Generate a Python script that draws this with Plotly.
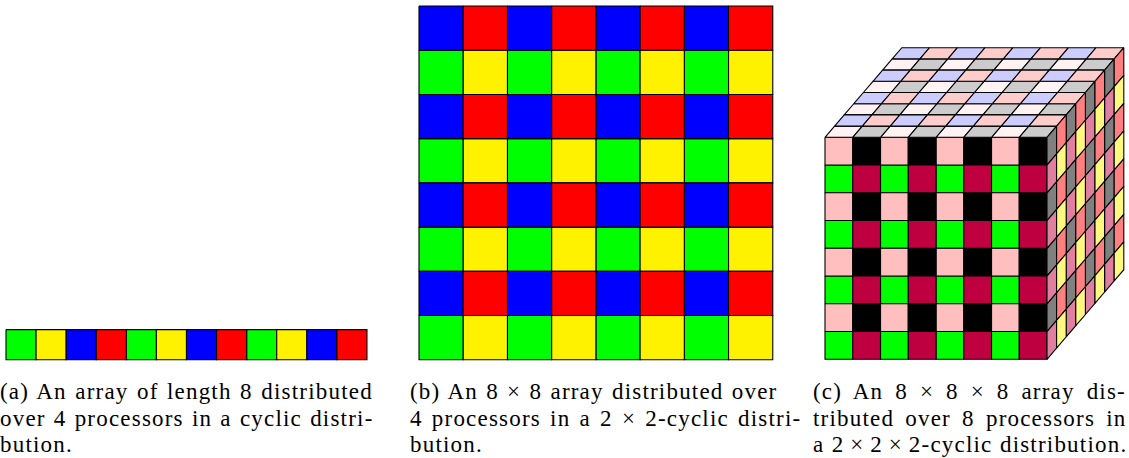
import plotly.graph_objects as go

# ---------------- data ----------------
# (a) 1-D cyclic distribution over 4 processors
array_1d = ["green", "yellow", "blue", "red", "green", "yellow", "blue", "red",
            "green", "yellow", "blue", "red"]

# (b) 8x8 array, 2x2-cyclic (rows top -> bottom)
array_2d = [
    ["blue", "red", "blue", "red", "blue", "red", "blue", "red"],
    ["green", "yellow", "green", "yellow", "green", "yellow", "green", "yellow"],
    ["blue", "red", "blue", "red", "blue", "red", "blue", "red"],
    ["green", "yellow", "green", "yellow", "green", "yellow", "green", "yellow"],
    ["blue", "red", "blue", "red", "blue", "red", "blue", "red"],
    ["green", "yellow", "green", "yellow", "green", "yellow", "green", "yellow"],
    ["blue", "red", "blue", "red", "blue", "red", "blue", "red"],
    ["green", "yellow", "green", "yellow", "green", "yellow", "green", "yellow"],
]

# (c) 8x8x8 array, 2x2x2-cyclic: visible faces
# front face: rows top -> bottom, columns left -> right
cube_front = [
    ["pink", "black", "pink", "black", "pink", "black", "pink", "black"],
    ["green", "purple", "green", "purple", "green", "purple", "green", "purple"],
    ["pink", "black", "pink", "black", "pink", "black", "pink", "black"],
    ["green", "purple", "green", "purple", "green", "purple", "green", "purple"],
    ["pink", "black", "pink", "black", "pink", "black", "pink", "black"],
    ["green", "purple", "green", "purple", "green", "purple", "green", "purple"],
    ["pink", "black", "pink", "black", "pink", "black", "pink", "black"],
    ["green", "purple", "green", "purple", "green", "purple", "green", "purple"],
]
# top face: depth front -> back, columns left -> right
cube_top = [
    ["pink", "black", "pink", "black", "pink", "black", "pink", "black"],
    ["blue", "red", "blue", "red", "blue", "red", "blue", "red"],
    ["pink", "black", "pink", "black", "pink", "black", "pink", "black"],
    ["blue", "red", "blue", "red", "blue", "red", "blue", "red"],
    ["pink", "black", "pink", "black", "pink", "black", "pink", "black"],
    ["blue", "red", "blue", "red", "blue", "red", "blue", "red"],
    ["pink", "black", "pink", "black", "pink", "black", "pink", "black"],
    ["blue", "red", "blue", "red", "blue", "red", "blue", "red"],
]
# right face: rows top -> bottom, depth front -> back
cube_right = [
    ["black", "red", "black", "red", "black", "red", "black", "red"],
    ["purple", "yellow", "purple", "yellow", "purple", "yellow", "purple", "yellow"],
    ["black", "red", "black", "red", "black", "red", "black", "red"],
    ["purple", "yellow", "purple", "yellow", "purple", "yellow", "purple", "yellow"],
    ["black", "red", "black", "red", "black", "red", "black", "red"],
    ["purple", "yellow", "purple", "yellow", "purple", "yellow", "purple", "yellow"],
    ["black", "red", "black", "red", "black", "red", "black", "red"],
    ["purple", "yellow", "purple", "yellow", "purple", "yellow", "purple", "yellow"],
]

captions = {
    "a": ["(a) An array of length 8 distributed",
          "over 4 processors in a cyclic distri-",
          "bution."],
    "b": ["(b) An 8 \u00d7 8 array distributed over",
          "4 processors in a 2 \u00d7 2-cyclic distri-",
          "bution."],
    "c": ["(c) An 8 \u00d7 8 \u00d7 8 array dis-",
          "tributed over 8 processors in",
          "a 2\u2009\u00d7\u20092\u2009\u00d7\u20092-cyclic distribution."],
}

# ---------------- styles ----------------
W, H = 1129, 458
BASE = {
    "green": (0, 255, 0), "yellow": (255, 242, 0), "blue": (0, 0, 255),
    "red": (255, 0, 0), "pink": (255, 191, 191), "black": (0, 0, 0),
    "purple": (191, 0, 64),
}
TOP_TINT = 0.2     # colour!20 on top face
RIGHT_TINT = 0.5   # colour!50 on right face

CAP_X = {"a": 0, "b": 408, "c": 811}
CAP_SHIFT = {"a": -2, "b": 0, "c": 0}
CAP_Y = [391, 418, 444]
LETTER_SPACING = 1.2
WORD_SPACING = {"a": [1.5, 1.2, 0.0], "b": [1.3, 2.2, 0.0], "c": [5.0, 4.2, 0.5]}


def tint(name, f):
    r, g, b = BASE[name]
    return "rgb(%d,%d,%d)" % tuple(round(255 - f * (255 - v)) for v in (r, g, b))


polys = {}  # fill colour -> list of polygons


def add(color, pts):
    polys.setdefault(color, []).append(pts)


# (a)
A_X0, A_Y0, A_S = 6.0, 329.6, 30.08
for i, c in enumerate(array_1d):
    x, y = A_X0 + i * A_S, A_Y0
    add(tint(c, 1.0), [(x, y), (x + A_S, y), (x + A_S, y + A_S), (x, y + A_S)])

# (b)
B_X0, B_Y0, B_S = 419.0, 6.0, 44.22
for r, row in enumerate(array_2d):
    for i, c in enumerate(row):
        x, y = B_X0 + i * B_S, B_Y0 + r * B_S
        add(tint(c, 1.0), [(x, y), (x + B_S, y), (x + B_S, y + B_S), (x, y + B_S)])

# (c)
C_X0, C_Y0, C_S = 825.0, 137.3, 27.75
DDX, DDY = 9.6, 11.2
for r, row in enumerate(cube_front):
    for i, c in enumerate(row):
        x, y = C_X0 + i * C_S, C_Y0 + r * C_S
        add(tint(c, 1.0), [(x, y), (x + C_S, y), (x + C_S, y + C_S), (x, y + C_S)])
for d, row in enumerate(cube_top):
    for i, c in enumerate(row):
        x, y = C_X0 + i * C_S + d * DDX, C_Y0 - d * DDY
        add(tint(c, TOP_TINT), [(x, y), (x + C_S, y), (x + C_S + DDX, y - DDY), (x + DDX, y - DDY)])
for r, row in enumerate(cube_right):
    for d, c in enumerate(row):
        x, y = C_X0 + 8 * C_S + d * DDX, C_Y0 + r * C_S - d * DDY
        add(tint(c, RIGHT_TINT), [(x, y), (x + DDX, y - DDY), (x + DDX, y - DDY + C_S), (x, y + C_S)])

fig = go.Figure()
for color, plist in polys.items():
    xs, ys = [], []
    for pts in plist:
        for px, py in pts + [pts[0]]:
            xs.append(px)
            ys.append(py)
        xs.append(None)
        ys.append(None)
    fig.add_trace(go.Scatter(
        x=xs, y=ys, mode="lines", fill="toself", fillcolor=color,
        line=dict(color="black", width=1.1), hoverinfo="skip", showlegend=False,
    ))

for key, lines in captions.items():
    for j, txt in enumerate(lines):
        style = "letter-spacing:%.1fpx;word-spacing:%.1fpx" % (LETTER_SPACING, WORD_SPACING[key][j])
        fig.add_annotation(
            x=CAP_X[key], y=CAP_Y[j], xref="x", yref="y", xshift=CAP_SHIFT[key],
            text='<span style="%s">%s</span>' % (style, txt),
            showarrow=False, xanchor="left", yanchor="middle",
            font=dict(family="Liberation Serif", size=23, color="black"),
        )

fig.update_layout(
    width=W, height=H, margin=dict(l=0, r=0, t=0, b=0),
    paper_bgcolor="white", plot_bgcolor="white",
    xaxis=dict(range=[0, W], visible=False, fixedrange=True),
    yaxis=dict(range=[H, 0], visible=False, fixedrange=True),
)
fig.write_html("out.html", config={"displayModeBar": False},
               post_script="document.body.style.margin='0';")
